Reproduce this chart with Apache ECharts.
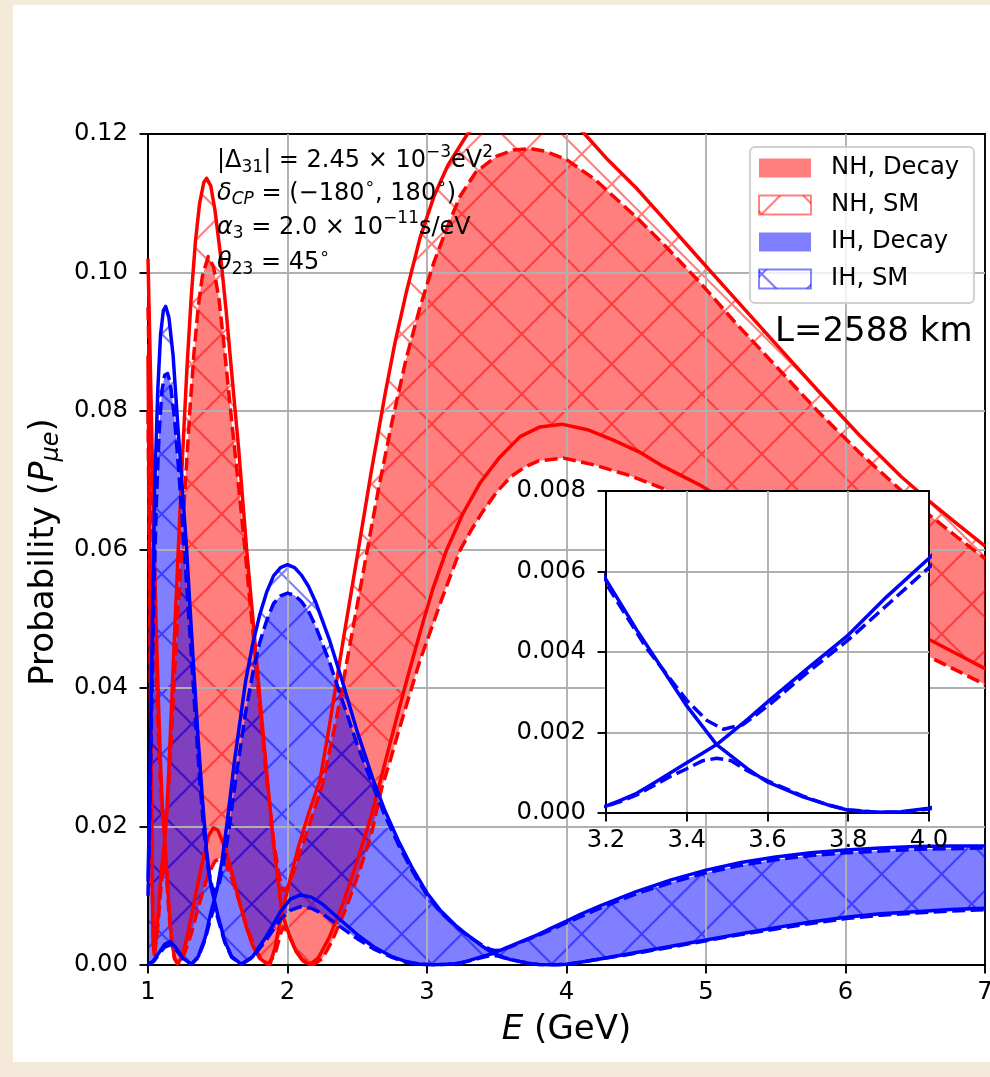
<!DOCTYPE html>
<html>
<head>
<meta charset="utf-8">
<script src="https://cdn.jsdelivr.net/npm/echarts@6.0.0/dist/echarts.min.js"></script>
<style>
  html, body { margin: 0; padding: 0; background: #f5e9da; }
  #chart { width: 990px; height: 1077px; }
</style>
</head>
<body>
<div id="chart"></div>
<script>
// Appearance probability P(nu_mu -> nu_e) vs neutrino energy, baseline L = 2588 km.
// Each band is bounded by an upper and a lower curve over the full delta_CP range.

// Normal hierarchy, standard oscillation (solid lines, hatched band)
const nhSmUpper = [[1.00,0.102],[1.015,0.088],[1.03,0.074],[1.045,0.060],[1.06,0.048],[1.075,0.038],[1.09,0.029],[1.105,0.022],[1.12,0.018],[1.135,0.022],[1.15,0.0285],[1.17,0.038],[1.19,0.0475],[1.217,0.060],[1.25,0.0745],[1.28,0.0865],[1.31,0.0965],[1.34,0.1045],[1.37,0.110],[1.40,0.113],[1.42,0.1136],[1.45,0.1125],[1.48,0.109],[1.52,0.1025],[1.56,0.0945],[1.60,0.0855],[1.65,0.0745],[1.707,0.060],[1.75,0.0505],[1.80,0.039],[1.85,0.028],[1.90,0.0175],[1.96,0.0075],[2.02,0.0125],[2.08,0.0172],[2.15,0.0218],[2.233,0.0267],[2.30,0.0345],[2.40,0.047],[2.508,0.060],[2.60,0.0712],[2.70,0.0825],[2.77,0.0898],[2.85,0.097],[2.95,0.105],[3.05,0.111],[3.15,0.1155],[3.29,0.120],[3.40,0.1227],[3.50,0.1242],[3.60,0.1252],[3.70,0.1255],[3.80,0.1252],[3.90,0.1242],[4.00,0.1227],[4.13,0.120],[4.30,0.1162],[4.50,0.1122],[4.70,0.1077],[4.96,0.1018],[5.20,0.0964],[5.50,0.0897],[5.80,0.083],[6.10,0.0765],[6.40,0.0705],[6.60,0.067],[6.80,0.0637],[7.00,0.0605]];
const nhSmLower = [[1.00,0.088],[1.01,0.063],[1.02,0.038],[1.03,0.014],[1.037,0.003],[1.045,0.0015],[1.06,0.004],[1.08,0.0095],[1.10,0.0145],[1.12,0.018],[1.135,0.0135],[1.15,0.0085],[1.17,0.0035],[1.19,0.001],[1.21,0.0002],[1.24,0.001],[1.28,0.004],[1.33,0.009],[1.38,0.014],[1.43,0.0185],[1.468,0.0198],[1.50,0.0195],[1.55,0.017],[1.60,0.0135],[1.65,0.0095],[1.70,0.0058],[1.75,0.0028],[1.80,0.001],[1.85,0.0002],[1.875,0.0001],[1.91,0.0025],[1.96,0.0075],[2.01,0.0045],[2.06,0.002],[2.11,0.0006],[2.16,0.0001],[2.22,0.001],[2.30,0.004],[2.40,0.009],[2.50,0.015],[2.60,0.0215],[2.66,0.0262],[2.73,0.0316],[2.80,0.037],[2.875,0.0426],[2.95,0.048],[3.04,0.0542],[3.14,0.0599],[3.26,0.0653],[3.38,0.0696],[3.52,0.0733],[3.667,0.0763],[3.81,0.0777],[3.966,0.0781],[4.15,0.0773],[4.336,0.0758],[4.52,0.0741],[4.694,0.072],[4.957,0.0693],[5.13,0.0672],[5.30,0.065],[5.50,0.062],[5.70,0.059],[5.90,0.0562],[6.10,0.0535],[6.35,0.0502],[6.60,0.047],[6.80,0.0449],[7.00,0.0428]];

// Normal hierarchy, with decay (dashed lines, filled band)
const nhDecayUpper = [[1.00,0.095],[1.015,0.080],[1.03,0.066],[1.045,0.053],[1.06,0.042],[1.075,0.033],[1.09,0.026],[1.105,0.0215],[1.12,0.0205],[1.135,0.0225],[1.15,0.0265],[1.17,0.034],[1.19,0.042],[1.215,0.051],[1.241,0.060],[1.27,0.0705],[1.30,0.080],[1.33,0.0885],[1.36,0.095],[1.39,0.0995],[1.432,0.1023],[1.47,0.1008],[1.51,0.096],[1.55,0.0885],[1.60,0.0785],[1.65,0.069],[1.695,0.060],[1.75,0.0485],[1.80,0.0375],[1.85,0.027],[1.90,0.018],[1.94,0.0128],[1.97,0.0108],[2.00,0.0112],[2.05,0.0138],[2.10,0.0168],[2.16,0.0205],[2.25,0.026],[2.35,0.0355],[2.45,0.0465],[2.55,0.0575],[2.65,0.0685],[2.75,0.0785],[2.85,0.0875],[2.95,0.095],[3.05,0.1015],[3.15,0.1068],[3.237,0.111],[3.35,0.1145],[3.50,0.1168],[3.62,0.1177],[3.74,0.1179],[3.85,0.1175],[4.00,0.1163],[4.20,0.1135],[4.50,0.108],[4.70,0.104],[4.96,0.0985],[5.20,0.093],[5.50,0.0865],[5.80,0.080],[6.10,0.074],[6.40,0.0685],[6.60,0.065],[6.80,0.0618],[7.00,0.0587]];
const nhDecayLower = [[1.00,0.080],[1.01,0.056],[1.02,0.032],[1.03,0.011],[1.04,0.003],[1.05,0.002],[1.07,0.0055],[1.09,0.0105],[1.105,0.0135],[1.12,0.0148],[1.135,0.012],[1.15,0.0075],[1.17,0.0032],[1.19,0.0009],[1.215,0.0002],[1.25,0.001],[1.31,0.0045],[1.37,0.009],[1.43,0.013],[1.48,0.015],[1.516,0.0154],[1.56,0.0145],[1.61,0.012],[1.66,0.0088],[1.71,0.0055],[1.76,0.0027],[1.81,0.0009],[1.86,0.0001],[1.91,0.0015],[1.95,0.0045],[1.97,0.0055],[2.00,0.0048],[2.05,0.0025],[2.10,0.0009],[2.15,0.0002],[2.19,0.0001],[2.25,0.0009],[2.32,0.0035],[2.42,0.0082],[2.52,0.0138],[2.60,0.0188],[2.675,0.0255],[2.74,0.0298],[2.80,0.034],[2.875,0.039],[2.95,0.044],[3.03,0.0485],[3.10,0.0525],[3.17,0.0563],[3.237,0.0599],[3.32,0.0629],[3.40,0.0655],[3.50,0.0683],[3.60,0.0705],[3.70,0.0719],[3.80,0.0728],[3.98,0.0732],[4.20,0.0722],[4.45,0.0707],[4.694,0.0688],[4.96,0.066],[5.13,0.0638],[5.30,0.0615],[5.50,0.0588],[5.70,0.056],[5.90,0.0534],[6.10,0.0508],[6.35,0.0476],[6.60,0.0445],[6.80,0.0425],[7.00,0.0405]];

// Inverted hierarchy, standard oscillation (solid lines, hatched band)
const ihSmUpper = [[1.00,0.012],[1.01,0.022],[1.02,0.034],[1.03,0.047],[1.038,0.058],[1.05,0.070],[1.07,0.083],[1.09,0.091],[1.11,0.0945],[1.127,0.0951],[1.15,0.0935],[1.18,0.088],[1.21,0.079],[1.24,0.0705],[1.277,0.060],[1.30,0.052],[1.33,0.042],[1.36,0.0325],[1.39,0.024],[1.42,0.0165],[1.45,0.0115],[1.475,0.0094],[1.50,0.0115],[1.53,0.015],[1.57,0.021],[1.62,0.0295],[1.70,0.041],[1.75,0.0463],[1.80,0.0505],[1.85,0.0538],[1.90,0.0562],[1.95,0.0574],[2.00,0.0578],[2.05,0.0574],[2.10,0.0563],[2.15,0.0547],[2.20,0.0525],[2.30,0.047],[2.40,0.0405],[2.50,0.0337],[2.615,0.0267],[2.70,0.0222],[2.80,0.0177],[2.90,0.0138],[3.00,0.0104],[3.10,0.0078],[3.20,0.0058],[3.276,0.00455],[3.358,0.0033],[3.40,0.00266],[3.44,0.00214],[3.474,0.0017],[3.55,0.00232],[3.606,0.00281],[3.70,0.0036],[3.80,0.00442],[3.895,0.00537],[4.00,0.00633],[4.10,0.0073],[4.25,0.0086],[4.50,0.0106],[4.75,0.0123],[5.00,0.0137],[5.25,0.0148],[5.50,0.0156],[5.75,0.0162],[6.00,0.0166],[6.25,0.0169],[6.50,0.0171],[6.75,0.0172],[7.00,0.0172]];
const ihSmLower = [[1.00,0.0002],[1.03,0.0004],[1.08,0.0018],[1.12,0.003],[1.158,0.0034],[1.20,0.0025],[1.25,0.001],[1.31,0.0001],[1.36,0.0012],[1.41,0.004],[1.45,0.0075],[1.475,0.0094],[1.50,0.0072],[1.55,0.0035],[1.60,0.0012],[1.67,0.0001],[1.75,0.0012],[1.85,0.0042],[1.95,0.0077],[2.02,0.0095],[2.09,0.0101],[2.17,0.0098],[2.25,0.0088],[2.38,0.0065],[2.50,0.0044],[2.62,0.0026],[2.75,0.0012],[2.85,0.0005],[2.95,0.0001],[3.05,0.00005],[3.15,0.0001],[3.20,0.00017],[3.24,0.00033],[3.276,0.00049],[3.318,0.00074],[3.358,0.00099],[3.40,0.00125],[3.44,0.00149],[3.474,0.0017],[3.55,0.0011],[3.598,0.00078],[3.688,0.0004],[3.75,0.0002],[3.80,0.00007],[3.87,0.00002],[3.93,0.00003],[4.00,0.00012],[4.10,0.0004],[4.25,0.0009],[4.50,0.0018],[4.75,0.0027],[5.00,0.0036],[5.25,0.0045],[5.50,0.0054],[5.75,0.0062],[6.00,0.0069],[6.25,0.0074],[6.50,0.0077],[6.75,0.0080],[7.00,0.0082]];

// Inverted hierarchy, with decay (dashed lines, filled band)
const ihDecayUpper = [[1.00,0.010],[1.01,0.019],[1.02,0.030],[1.03,0.041],[1.045,0.056],[1.06,0.067],[1.08,0.077],[1.10,0.083],[1.12,0.0852],[1.141,0.0854],[1.16,0.084],[1.19,0.079],[1.22,0.0715],[1.25,0.063],[1.28,0.054],[1.31,0.045],[1.34,0.0355],[1.37,0.027],[1.40,0.0195],[1.43,0.014],[1.46,0.0112],[1.485,0.0106],[1.51,0.0117],[1.54,0.0145],[1.58,0.0195],[1.63,0.027],[1.70,0.0365],[1.75,0.042],[1.80,0.0465],[1.85,0.0497],[1.90,0.0522],[1.95,0.0533],[2.00,0.0537],[2.05,0.0534],[2.10,0.0525],[2.15,0.0511],[2.20,0.049],[2.30,0.0438],[2.40,0.0378],[2.50,0.0318],[2.62,0.0255],[2.70,0.0215],[2.80,0.0172],[2.90,0.0134],[3.00,0.0101],[3.10,0.0076],[3.20,0.0057],[3.30,0.0041],[3.40,0.0028],[3.45,0.0023],[3.491,0.00208],[3.54,0.0022],[3.606,0.0027],[3.70,0.0035],[3.80,0.0043],[3.90,0.0052],[4.00,0.0061],[4.25,0.0083],[4.50,0.0103],[4.75,0.0119],[5.00,0.0133],[5.25,0.0144],[5.50,0.0152],[5.75,0.0158],[6.00,0.0162],[6.50,0.0167],[7.00,0.0169]];
const ihDecayLower = [[1.00,0.0002],[1.04,0.0005],[1.08,0.0016],[1.12,0.0026],[1.16,0.0029],[1.20,0.0022],[1.25,0.0009],[1.31,0.0001],[1.36,0.0011],[1.41,0.0037],[1.45,0.0068],[1.475,0.0083],[1.50,0.0068],[1.55,0.0033],[1.60,0.0011],[1.67,0.0001],[1.75,0.0011],[1.85,0.0037],[1.95,0.0066],[2.02,0.0079],[2.09,0.0084],[2.17,0.0082],[2.25,0.0074],[2.38,0.0055],[2.50,0.0038],[2.62,0.0023],[2.75,0.0011],[2.85,0.0004],[2.95,0.0001],[3.05,0.00005],[3.15,0.0001],[3.20,0.00017],[3.24,0.0003],[3.276,0.00045],[3.318,0.00068],[3.358,0.0009],[3.40,0.0011],[3.44,0.0013],[3.474,0.00136],[3.51,0.0013],[3.55,0.00105],[3.60,0.0008],[3.688,0.00042],[3.75,0.0002],[3.80,0.00008],[3.87,0.00002],[3.93,0.00002],[4.00,0.0001],[4.10,0.0004],[4.25,0.0009],[4.50,0.0017],[4.75,0.0026],[5.00,0.0035],[5.25,0.0044],[5.50,0.0052],[5.75,0.0060],[6.00,0.0067],[6.25,0.0072],[6.50,0.0075],[6.75,0.0078],[7.00,0.0080]];

// Axis ranges and tick steps
const mainXTicks = { min: 1, max: 7, step: 1 };
const mainYTicks = { min: 0, max: 0.12, step: 0.02 };
const insetXTicks = { min: 3.2, max: 4.0, step: 0.2 };
const insetYTicks = { min: 0, max: 0.008, step: 0.002 };

const legendLabels = ['NH, Decay', 'NH, SM', 'IH, Decay', 'IH, SM'];

const RED = '#ff0000', BLUE = '#0000ff';
const FONT = 'DejaVu Sans';
const TICK_FONT = 24.3;

// Cross-hatch texture ("x" hatch), 60 px period, stroked as a single path
function hatchTile(color) {
  const s = 60;
  const c = document.createElement('canvas');
  c.width = s; c.height = s;
  const g = c.getContext('2d');
  g.strokeStyle = color;
  g.lineWidth = 2.2;
  const c1 = 52.3, c2 = 15.7;
  g.beginPath();
  for (let k = -3; k <= 3; k++) {
    g.moveTo(-s, -s + c1 + k * s); g.lineTo(2 * s, 2 * s + c1 + k * s);
    g.moveTo(-s, s + c2 + k * s);  g.lineTo(2 * s, -2 * s + c2 + k * s);
  }
  g.stroke();
  return c;
}
const redHatch = { image: hatchTile('rgba(255,0,0,0.5)'), repeat: 'repeat' };
const blueHatch = { image: hatchTile('rgba(0,0,255,0.5)'), repeat: 'repeat' };

// Region between an upper and a lower curve
function band(name, upper, lower, fill, z) {
  return {
    type: 'custom', name, coordinateSystem: 'cartesian2d',
    xAxisIndex: 0, yAxisIndex: 0, clip: true, silent: true, z,
    data: [[upper[0][0], upper[0][1]]],
    renderItem(params, api) {
      const pts = upper.map(p => api.coord(p))
        .concat(lower.slice().reverse().map(p => api.coord(p)));
      return { type: 'polygon', shape: { points: pts }, style: { fill: fill, stroke: null } };
    }
  };
}

function curve(name, pts, color, dashed, axisIdx, z) {
  return {
    type: 'line', name, data: pts, xAxisIndex: axisIdx, yAxisIndex: axisIdx,
    showSymbol: false, symbol: 'none', clip: true, silent: true, z,
    lineStyle: { color, width: 3.5, type: dashed ? [13, 5.5] : 'solid', cap: 'butt', join: 'round' }
  };
}

function valueAxis(t, grid, decimals, z, labelMargin) {
  return {
    type: 'value', gridIndex: grid, min: t.min, max: t.max, interval: t.step, z,
    axisLine: { show: true, onZero: false, lineStyle: { color: '#000', width: 1.9 } },
    axisTick: { show: true, inside: false, length: 8.5, lineStyle: { color: '#000', width: 1.9 } },
    axisLabel: { color: '#000', fontFamily: FONT, fontSize: TICK_FONT, margin: labelMargin,
      formatter: v => Number(v).toFixed(decimals) },
    splitLine: { show: true, showMinLine: false, showMaxLine: false, lineStyle: { color: '#b0b0b0', width: 1.9 } }
  };
}

const richSmall = {
  n: { fontFamily: FONT, fontSize: 24, lineHeight: 34, color: '#000' },
  i: { fontFamily: FONT, fontSize: 24, lineHeight: 34, fontStyle: 'italic', color: '#000' },
  s: { fontFamily: FONT, fontSize: 17, verticalAlign: 'bottom', padding: [0, 0, 2, 0], color: '#000' },
  is: { fontFamily: FONT, fontSize: 17, verticalAlign: 'bottom', padding: [0, 0, 2, 0], fontStyle: 'italic', color: '#000' },
  p: { fontFamily: FONT, fontSize: 17, verticalAlign: 'top', color: '#000' }
};
const richLarge = {
  n: { fontFamily: FONT, fontSize: 34, lineHeight: 48, color: '#000' },
  i: { fontFamily: FONT, fontSize: 34, lineHeight: 48, fontStyle: 'italic', color: '#000' },
  is: { fontFamily: FONT, fontSize: 24, verticalAlign: 'bottom', padding: [0, 0, 4, 0], fontStyle: 'italic', color: '#000' }
};

const annotations = [
  '{n||Δ}{s|31}{n|| = 2.45 × 10}{p|−3}{n|eV}{p|2}',
  '{i|δ}{is|CP}{n| = (−180}{p|∘}{n|, 180}{p|∘}{n|)}',
  '{i|α}{s|3}{n| = 2.0 × 10}{p|−11}{n|s/eV}',
  '{i|θ}{s|23}{n| = 45}{p|∘}'
];
const annotationTops = [143.7, 176.3, 210.4, 245.6];

const graphics = [
  { type: 'rect', silent: true, z: -100, shape: { x: 13, y: 5, width: 977, height: 1057 }, style: { fill: '#ffffff' } }
];
annotations.forEach((t, k) => graphics.push({
  type: 'text', silent: true, z: 20, x: 217, y: annotationTops[k],
  style: { text: t, rich: richSmall, verticalAlign: 'top', align: 'left' }
}));
graphics.push({
  type: 'text', silent: true, z: 20, x: 44, y: 552, rotation: Math.PI / 2,
  style: { text: '{n|Probability (}{i|P}{is|μe}{n|)}', rich: richLarge, align: 'center', verticalAlign: 'middle' }
});
graphics.push({
  type: 'text', silent: true, z: 20, x: 566.5, y: 1030,
  style: { text: '{i|E}{n| (GeV)}', rich: richLarge, align: 'center', verticalAlign: 'middle' }
});
graphics.push({
  type: 'text', silent: true, z: 20, x: 775, y: 332,
  style: { text: 'L=2588 km', fontFamily: FONT, fontSize: 34, fill: '#000', align: 'left', verticalAlign: 'middle' }
});

// Legend box with patches
const legendFills = [
  { fill: 'rgba(255,0,0,0.5)', stroke: null },
  { fill: redHatch, stroke: 'rgba(255,0,0,0.5)' },
  { fill: 'rgba(0,0,255,0.5)', stroke: null },
  { fill: blueHatch, stroke: 'rgba(0,0,255,0.5)' }
];
graphics.push({
  type: 'rect', silent: true, z: 20, shape: { x: 750, y: 147, width: 224, height: 156, r: 5 },
  style: { fill: 'rgba(255,255,255,0.8)', stroke: '#d0d0d0', lineWidth: 1.9 }
});
legendLabels.forEach((lab, k) => {
  const cy = 168 + k * 37;
  graphics.push({
    type: 'rect', silent: true, z: 21, shape: { x: 759, y: cy - 9.5, width: 52, height: 19 },
    style: { fill: legendFills[k].fill, stroke: legendFills[k].stroke, lineWidth: 1.9 }
  });
  graphics.push({
    type: 'text', silent: true, z: 21, x: 831, y: cy,
    style: { text: lab, fontFamily: FONT, fontSize: TICK_FONT, fill: '#000', align: 'left', verticalAlign: 'middle' }
  });
});

const series = [
  band('NH, Decay', nhDecayUpper, nhDecayLower, 'rgba(255,0,0,0.5)', 1),
  band('NH, SM', nhSmUpper, nhSmLower, redHatch, 1),
  band('IH, Decay', ihDecayUpper, ihDecayLower, 'rgba(0,0,255,0.5)', 1),
  band('IH, SM', ihSmUpper, ihSmLower, blueHatch, 1),
  curve('nh-sm-up', nhSmUpper, RED, false, 0, 3),
  curve('nh-sm-lo', nhSmLower, RED, false, 0, 3),
  curve('nh-dec-up', nhDecayUpper, RED, true, 0, 3),
  curve('nh-dec-lo', nhDecayLower, RED, true, 0, 3),
  curve('ih-sm-up', ihSmUpper, BLUE, false, 0, 4),
  curve('ih-sm-lo', ihSmLower, BLUE, false, 0, 4),
  curve('ih-dec-up', ihDecayUpper, BLUE, true, 0, 4),
  curve('ih-dec-lo', ihDecayLower, BLUE, true, 0, 4),
  // inset: inverted hierarchy around the crossing
  curve('i-ih-sm-up', ihSmUpper, BLUE, false, 1, 12),
  curve('i-ih-sm-lo', ihSmLower, BLUE, false, 1, 12),
  curve('i-ih-dec-up', ihDecayUpper, BLUE, true, 1, 12),
  curve('i-ih-dec-lo', ihDecayLower, BLUE, true, 1, 12)
];

const chart = echarts.init(document.getElementById('chart'), null, { renderer: 'canvas' });
chart.setOption({
  animation: false,
  backgroundColor: '#f5e9da',
  grid: [
    { left: 148, top: 134, width: 837, height: 831, show: true, backgroundColor: 'transparent',
      borderColor: '#000', borderWidth: 1.9, z: 0, containLabel: false, outerBoundsMode: 'none' },
    { left: 606, top: 491, width: 323, height: 322, show: true, backgroundColor: '#ffffff',
      borderColor: '#000', borderWidth: 1.9, z: 10, containLabel: false, outerBoundsMode: 'none' }
  ],
  xAxis: [
    valueAxis(mainXTicks, 0, 0, 2, 16),
    valueAxis(insetXTicks, 1, 1, 11, 16)
  ],
  yAxis: [
    valueAxis(mainYTicks, 0, 2, 2, 20),
    valueAxis(insetYTicks, 1, 3, 11, 20)
  ],
  graphic: graphics,
  series
});
</script>
</body>
</html>
